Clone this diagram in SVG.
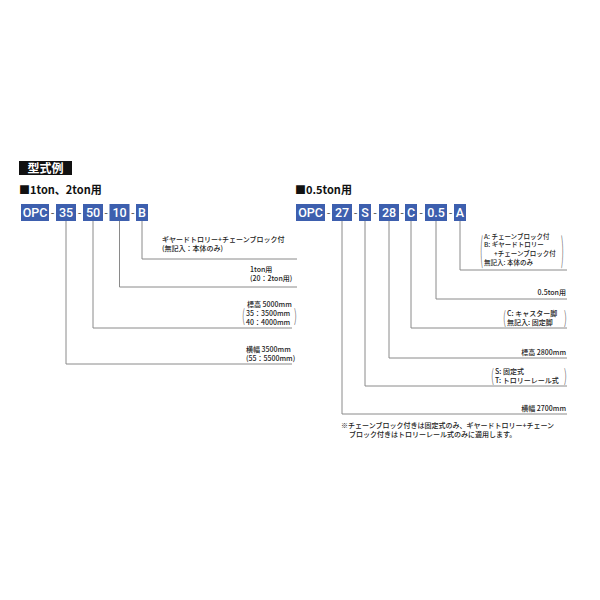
<svg xmlns="http://www.w3.org/2000/svg" width="600" height="600" viewBox="0 0 600 600">
<style>
text{font-family:"Noto Sans CJK JP","Noto Sans",sans-serif;fill:#222}
.box{fill:#3d5fae}
.bt{font-family:Roboto,"Liberation Sans",sans-serif;font-weight:500;font-size:12.5px;fill:#fff;text-anchor:middle}
.dash{font-family:"Liberation Sans",sans-serif;font-size:11px;fill:#555;text-anchor:middle}
.lbl{font-size:7px;font-weight:500}
.sm{font-size:6.5px}
.end{text-anchor:end}
.hd{font-size:11px;font-weight:bold;fill:#111}
.br{font-size:9px;font-weight:300;fill:#444}
.conn path{fill:none;stroke:#8a8a8a;stroke-width:1}
</style>
<rect width="600" height="600" fill="#fff"/>

<g id="title">
<rect x="19" y="161" width="53" height="14" fill="#111"/>
<text x="45.5" y="172.5" font-size="12" font-weight="bold" text-anchor="middle" style="fill:#fff">型式例</text>
</g>
<text class="hd" x="19" y="194">■1ton、2ton用</text>
<text class="hd" x="295" y="194">■0.5ton用</text>

<g id="left-code">
<g id="L-OPC"><rect class="box" x="21" y="204" width="28" height="17"/><text class="bt" x="35" y="217">OPC</text></g>
<text class="dash" x="52.5" y="216">-</text>
<g id="L-35"><rect class="box" x="56" y="204" width="20" height="17"/><text class="bt" x="66" y="217">35</text></g>
<text class="dash" x="79.5" y="216">-</text>
<g id="L-50"><rect class="box" x="83" y="204" width="20" height="17"/><text class="bt" x="93" y="217">50</text></g>
<text class="dash" x="106" y="216">-</text>
<g id="L-10"><rect class="box" x="109.5" y="204" width="20" height="17"/><text class="bt" x="119.5" y="217">10</text></g>
<text class="dash" x="132.8" y="216">-</text>
<g id="L-B"><rect class="box" x="136" y="204" width="12" height="17"/><text class="bt" x="142" y="217">B</text></g>
</g>

<g id="right-code">
<g id="R-OPC"><rect class="box" x="296" y="204" width="29" height="17"/><text class="bt" x="310.5" y="217">OPC</text></g>
<text class="dash" x="328.5" y="216">-</text>
<g id="R-27"><rect class="box" x="332" y="204" width="20" height="17"/><text class="bt" x="342" y="217">27</text></g>
<text class="dash" x="355.5" y="216">-</text>
<g id="R-S"><rect class="box" x="359" y="204" width="12" height="17"/><text class="bt" x="365" y="217">S</text></g>
<text class="dash" x="375" y="216">-</text>
<g id="R-28"><rect class="box" x="379" y="204" width="20" height="17"/><text class="bt" x="389" y="217">28</text></g>
<text class="dash" x="402" y="216">-</text>
<g id="R-C"><rect class="box" x="405" y="204" width="12" height="17"/><text class="bt" x="411" y="217">C</text></g>
<text class="dash" x="421" y="216">-</text>
<g id="R-05"><rect class="box" x="425" y="204" width="22" height="17"/><text class="bt" x="436" y="217">0.5</text></g>
<text class="dash" x="450.5" y="216">-</text>
<g id="R-A"><rect class="box" x="454" y="204" width="12" height="17"/><text class="bt" x="460" y="217">A</text></g>
</g>

<g class="conn" id="connectors">
<path d="M142 221V259H297"/>
<path d="M119.5 221V287H297"/>
<path d="M93 221V328H292"/>
<path d="M66 221V364H292"/>
<path d="M460 221V270H567"/>
<path d="M436 221V299H567"/>
<path d="M411 221V328H567"/>
<path d="M389 221V358H567"/>
<path d="M365 221V386H567"/>
<path d="M342 221V414H567"/>
</g>

<g id="left-labels">
<text class="lbl" x="162" y="242">ギヤードトロリー+チェーンブロック付</text>
<text class="lbl" x="162" y="251">(無記入：本体のみ)</text>
<text class="lbl" x="250" y="272">1ton用</text>
<text class="lbl" x="250" y="281">(20：2ton用)</text>
<text class="lbl" x="247" y="307">標高 5000mm</text>
<text class="br" transform="translate(242 322) scale(1 1.9)">(</text>
<text class="lbl" x="246" y="316">35：3500mm</text>
<text class="lbl" x="246" y="325">40：4000mm</text>
<text class="br" transform="translate(294 322) scale(1 1.9)">)</text>
<text class="lbl" x="246" y="352">横幅 3500mm</text>
<text class="lbl" x="246" y="361">(55：5500mm)</text>
</g>

<g id="right-labels">
<text class="br" transform="translate(480 262) scale(1 3.7)">(</text>
<text class="lbl sm" x="484" y="238.5">A: チェーンブロック付</text>
<text class="lbl sm" x="484" y="247.3">B: ギヤードトロリー</text>
<text class="lbl sm" x="494" y="256.1">+チェーンブロック付</text>
<text class="lbl sm" x="484" y="264.9">無記入: 本体のみ</text>
<text class="br" transform="translate(561 262) scale(1 3.7)">)</text>
<text class="lbl end" x="566" y="295">0.5ton用</text>
<text class="br" transform="translate(503 324) scale(1 1.9)">(</text>
<text class="lbl" x="507" y="316">C: キャスター脚</text>
<text class="lbl" x="507" y="325">無記入: 固定脚</text>
<text class="br" transform="translate(564 324) scale(1 1.9)">)</text>
<text class="lbl end" x="566" y="355">標高 2800mm</text>
<text class="br" transform="translate(491 382) scale(1 1.9)">(</text>
<text class="lbl" x="495" y="374">S: 固定式</text>
<text class="lbl" x="495" y="383">T: トロリーレール式</text>
<text class="br" transform="translate(564 382) scale(1 1.9)">)</text>
<text class="lbl end" x="566" y="411">横幅 2700mm</text>
<text class="lbl" x="341" y="428">※チェーンブロック付きは固定式のみ、ギヤードトロリー+チェーン</text>
<text class="lbl" x="349" y="437">ブロック付きはトロリーレール式のみに適用します。</text>
</g>
</svg>
